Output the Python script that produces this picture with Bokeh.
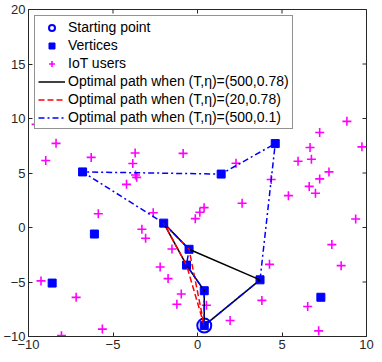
import math
from bokeh.plotting import figure
from bokeh.models import Range1d, FixedTicker, Legend, LegendItem
from bokeh.embed import file_html
from bokeh.resources import INLINE

# Starting point
start_x = [0.4]
start_y = [-9.0]

# Vertices (index 0 = starting point)
vert_x = [0.4, 0.4, -0.65, -0.5, -2.0, 3.7, 4.6, 1.4, -6.8, -6.1, -8.6, 7.3]
vert_y = [-9.0, -5.8, -3.45, -2.0, 0.4, -4.8, 7.7, 4.9, 5.1, -0.6, -5.1, -6.4]

# IoT users
user_x = [-9.55, -8.37, -8.98, -6.29, -3.69, -3.83, -3.67, -3.6, -4.2, -5.87,
          1.37, -0.85, 2.28, 2.64, 0.39, 0.14, -0.13, -2.62, 8.84, 7.23,
          9.73, 6.66, 6.74, 5.95, 7.78, 7.23, 4.36, 6.61, 6.98, 5.38,
          9.36, 7.95, 4.26, 8.5, 3.81, 6.52, 7.17, -3.29, -3.07, -1.51,
          -2.21, -1.74, -0.96, -1.22, 0.53, 1.93, -9.26, -7.18, -8.05, -5.63]
user_y = [9.46, 7.72, 6.15, 6.43, 6.83, 5.87, 4.82, 4.6, 3.96, 1.26,
          9.53, 6.8, 5.9, 2.23, 1.82, 1.4, 0.81, 1.36, 9.74, 8.72,
          7.4, 7.34, 6.26, 6.08, 5.1, 4.46, 4.4, 3.77, 3.14, 2.92,
          0.78, -1.57, -3.38, -3.5, -6.69, -7.25, -9.48, -0.16, -0.98, -1.97,
          -3.62, -4.69, -6.1, -7.04, -7.13, -8.53, -4.9, -6.41, -9.92, -9.32]

# Tours (indices into the vertex lists)
path_black = [0, 1, 2, 4, 3, 5, 0]          # (T,eta)=(500,0.78)
path_red = [0, 2, 4, 3, 0]                  # (T,eta)=(20,0.78)
path_blue = [0, 1, 2, 3, 4, 8, 7, 6, 5, 0]  # (T,eta)=(500,0.1)

x_ticks = [-10, -5, 0, 5, 10]
y_ticks = [-10, -5, 0, 5, 10, 15, 20]
x_lim = (-10, 10)
y_lim = (-10, 20)

FONT = "Liberation Sans"
AX = "#262626"

p = figure(width=374, height=354, x_range=Range1d(*x_lim), y_range=Range1d(*y_lim),
           output_backend="svg", toolbar_location=None,
           min_border_left=22, min_border_right=8, min_border_top=9, min_border_bottom=18)
p.xgrid.visible = False
p.ygrid.visible = False
p.outline_line_color = AX
p.outline_line_alpha = 1

for ax, ticks in ((p.xaxis[0], x_ticks), (p.yaxis[0], y_ticks)):
    ax.ticker = FixedTicker(ticks=ticks)
    ax.major_tick_in = 4
    ax.major_tick_out = 0
    ax.minor_tick_line_color = None
    ax.axis_line_color = AX
    ax.major_tick_line_color = AX
    ax.major_label_text_color = AX
    ax.major_label_text_font = FONT
    ax.major_label_text_font_size = "13px"
    ax.major_label_standoff = 3

# box ticks on the top and right edges (inward), from the tick lists
p.scatter(x_ticks, [y_lim[1]] * len(x_ticks), marker="dash", size=8, angle=math.pi / 2,
          line_color=AX, line_width=1)
p.scatter([x_lim[1]] * len(y_ticks), y_ticks, marker="dash", size=8,
          line_color=AX, line_width=1)

r_start = p.scatter(start_x, start_y, marker="circle", size=14, fill_color=None,
                    line_color="blue", line_width=2)
r_vert = p.scatter(vert_x, vert_y, marker="square", size=8, fill_color="blue",
                   line_color="blue")
r_user = p.scatter(user_x, user_y, marker="cross", size=9, line_color="magenta",
                   line_width=1.6)


def coords(path):
    return [vert_x[i] for i in path], [vert_y[i] for i in path]


bx, by = coords(path_black)
rx, ry = coords(path_red)
ux, uy = coords(path_blue)
r_black = p.line(bx, by, line_color="black", line_width=1.5)
r_red = p.line(rx, ry, line_color="red", line_width=1.5, line_dash="6 3")
r_blue = p.line(ux, uy, line_color="blue", line_width=1.5, line_dash="6 3 2 3")

legend = Legend(items=[
    LegendItem(label="Starting point", renderers=[r_start]),
    LegendItem(label="Vertices", renderers=[r_vert]),
    LegendItem(label="IoT users", renderers=[r_user]),
    LegendItem(label="Optimal path when (T,η)=(500,0.78)", renderers=[r_black]),
    LegendItem(label="Optimal path when (T,η)=(20,0.78)", renderers=[r_red]),
    LegendItem(label="Optimal path when (T,η)=(500,0.1)", renderers=[r_blue]),
], location="top_left")
legend.margin = 6
legend.padding = 3
legend.spacing = 2
legend.glyph_width = 27
legend.glyph_height = 15
legend.label_height = 15
legend.label_standoff = 3
legend.label_text_font = FONT
legend.label_text_font_size = "14px"
legend.label_text_color = "black"
legend.border_line_color = AX
legend.border_line_width = 1
legend.background_fill_alpha = 1
p.add_layout(legend)

open("out.html", "w").write(file_html(p, INLINE))
